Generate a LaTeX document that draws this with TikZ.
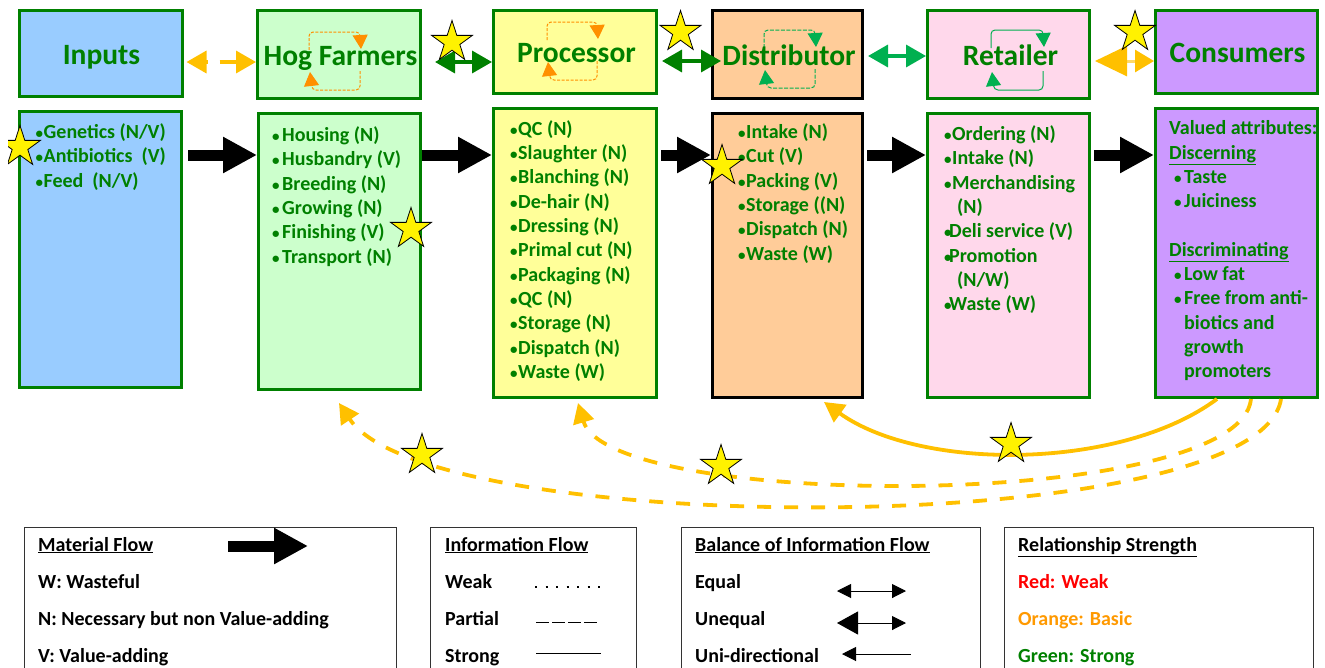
\documentclass[tikz,border=0pt]{standalone}
\usepackage{fontspec}
\setmainfont{Carlito}
\usetikzlibrary{arrows.meta,shapes.geometric,calc}
\definecolor{gr}{HTML}{008000}
\definecolor{lgr}{HTML}{00B050}
\definecolor{org}{HTML}{FFC000}
\definecolor{lorg}{HTML}{FF9000}
\definecolor{cin}{HTML}{99CCFF}
\definecolor{chog}{HTML}{CCFFCC}
\definecolor{cpro}{HTML}{FFFF99}
\definecolor{cdis}{HTML}{FFCC99}
\definecolor{cret}{HTML}{FFD8EB}
\definecolor{ccon}{HTML}{CC99FF}
\newcommand{\selfloop}[5]{%
    \draw[#1,line width=1pt,rounded corners=4pt,-{Triangle[length=14pt,width=15pt]}] (#2,#3+18) -- (#2,#3) -- (#4,#3) -- (#4+1,#3+17);
    \draw[#1,line width=1pt,rounded corners=4pt,-{Triangle[length=14pt,width=15pt]}] (#4,#5-19) -- (#4,#5) -- (#2+3,#5) -- (#2+1,#5-18);}
\newcommand{\bul}{{\fontsize{15}{15}\selectfont\textbullet}}
\newcommand{\li}[1]{\makebox[8pt][l]{\bul}#1}
\newcommand{\lj}[1]{\makebox[10pt][l]{\bul}#1}
\newcommand{\lk}[1]{\hspace*{5pt}\makebox[10pt][l]{\bul}#1}
\tikzset{
  box/.style={draw=gr,line width=3pt,inner sep=0pt},
  boxtitle/.style={anchor=base,inner sep=0pt,text=gr,font=\fontsize{29.5}{32}\selectfont\bfseries},
  listtext/.style={anchor=north west,align=left,inner sep=0pt,text=gr,font=\fontsize{20}{24.3}\selectfont\bfseries},
  legbox/.style={draw=black!80,line width=1pt,inner sep=0pt,anchor=north west},
  legtext/.style={anchor=base west,inner sep=0pt,font=\fontsize{20}{24}\selectfont\bfseries},
  matflow/.style={line width=11pt,-{Triangle[length=34pt,width=34pt]}},
  infoarrow/.style={line width=3.5pt,<->,>={Triangle[length=20pt,width=22pt]}},
  curvearrow/.style={org,line width=3.8pt,-{Triangle[length=20pt,width=21pt]}},
  curvedash/.style={curvearrow,dash pattern=on 14pt off 13pt},
  starshape/.style={star,star points=5,star point ratio=2.618,minimum size=43pt,inner sep=0pt,draw=black,line width=.8pt,fill=yellow},
  thinarrow/.style={line width=1pt,draw=black}
}
\begin{document}
\begin{tikzpicture}[x=1pt,y=-1pt]
\useasboundingbox (0,0) rectangle (1325,667);
\clip (0,0) rectangle (1325,667);
% top row
\node[box,fill=cin,minimum width=162.5pt,minimum height=86.5pt] (inT) at (100.75,53.25) {};
\node[box,fill=chog,minimum width=162.5pt,minimum height=88pt] (hogT) at (338.75,54.5) {};
\node[box,fill=cpro,minimum width=163pt,minimum height=82.5pt] (proT) at (575,51.75) {};
\node[box,draw=black,fill=cdis,minimum width=150pt,minimum height=88pt] (disT) at (787.5,54.5) {};
\node[box,fill=cret,minimum width=162pt,minimum height=88pt] (retT) at (1008.5,54.5) {};
\node[box,fill=ccon,minimum width=162pt,minimum height=82.5pt] (conT) at (1236.5,51.75) {};
% self loops
\selfloop{lorg,dash pattern=on 3pt off 1.5pt}{309}{32}{360}{90}
\selfloop{lorg,dash pattern=on 3pt off 1.5pt}{547}{22}{597}{80}
\selfloop{lgr,dash pattern=on 4pt off 1.5pt}{764}{30}{815}{88}
\selfloop{lgr}{991}{30}{1043}{90}
% titles
\node[boxtitle] (inTt) at (101.5,64) {Inputs};
\node[boxtitle] (hogTt) at (340.5,65) {Hog Farmers};
\node[boxtitle] (proTt) at (576.5,62) {Processor};
\node[boxtitle] (disTt) at (789,65) {Distributor};
\node[boxtitle] (retTt) at (1010.5,65) {Retailer};
\node[boxtitle] (conTt) at (1237.5,62) {Consumers};
% bottom row
\node[box,fill=cin,minimum width=162pt,minimum height=276pt] (inB) at (100.5,249.5) {};
\node[box,fill=chog,minimum width=161.5pt,minimum height=276pt] (hogB) at (339.25,251.5) {};
\node[box,fill=cpro,minimum width=163pt,minimum height=289pt] (proB) at (575,253) {};
\node[box,draw=black,fill=cdis,minimum width=150pt,minimum height=284pt] (disB) at (787.5,255.5) {};
\node[box,fill=cret,minimum width=162pt,minimum height=284pt] (retB) at (1008.5,255.5) {};
\node[box,fill=ccon,minimum width=162pt,minimum height=289pt] (conB) at (1236.5,253) {};
% lists
\node[listtext] (inL) at (35.5,123.5) {\li{Genetics (N/V)}\\\li{Antibiotics~~(V)}\\\li{Feed~~(N/V)}};
\node[listtext] (hogL) at (272,126.5) {\lj{Housing (N)}\\\lj{Husbandry (V)}\\\lj{Breeding (N)}\\\lj{Growing (N)}\\\lj{Finishing (V)}\\\lj{Transport (N)}};
\node[listtext] (proL) at (510,120.3) {\li{QC (N)}\\\li{Slaughter (N)}\\\li{Blanching (N)}\\\li{De-hair (N)}\\\li{Dressing (N)}\\\li{Primal cut (N)}\\\li{Packaging (N)}\\\li{QC (N)}\\\li{Storage (N)}\\\li{Dispatch (N)}\\\li{Waste (W)}};
\node[listtext] (disL) at (738,123.5) {\li{Intake (N)}\\\li{Cut (V)}\\\li{Packing (V)}\\\li{Storage ((N)}\\\li{Dispatch (N)}\\\li{Waste (W)}};
\node[listtext] (retL) at (944,125.5) {\li{Ordering (N)}\\\li{Intake (N)}\\\li{Merchandising}\\\hspace*{13pt}(N)\\\makebox[5pt][l]{\bul}Deli service (V)\\\makebox[5pt][l]{\bul}Promotion\\\hspace*{13pt}(N/W)\\\makebox[5pt][l]{\bul}Waste (W)};
\node[listtext] (conL) at (1169,120.5) {Valued attributes:\\\underline{Discerning}\\\lk{Taste}\\\lk{Juiciness}\\\mbox{}\\\underline{Discriminating}\\\lk{Low fat}\\\lk{Free from anti-}\\\hspace*{15pt}biotics and\\\hspace*{15pt}growth\\\hspace*{15pt}promoters};
% material flow
\draw[matflow] ([xshift=5pt]inB.east |- 0,155) -- (hogB.west |- 0,155);
\draw[matflow] (hogB.east |- 0,155) -- (proB.west |- 0,155);
\draw[matflow] ([xshift=3pt]proB.east |- 0,155) -- (disB.west |- 0,155);
\draw[matflow] ([xshift=3pt]disB.east |- 0,155) -- (retB.west |- 0,155);
\draw[matflow] ([xshift=3pt]retB.east |- 0,155) -- (conB.west |- 0,155);
% information flow
\draw[infoarrow,org,dash pattern=on 2pt off 12pt on 20pt off 100pt] ([xshift=3pt]inT.east |- 0,62) -- (hogT.west |- 0,62);
\draw[infoarrow,gr] ([xshift=13.5pt]hogT.east |- 0,62) -- (proT.west |- 0,62);
\draw[infoarrow,gr] ([xshift=4pt]proT.east |- 0,61) -- ([xshift=10pt]disT.west |- 0,61);
\draw[infoarrow,lgr] ([xshift=4pt]disT.east |- 0,56) -- (retT.west |- 0,56);
\draw[org!60,line width=3pt,{Triangle[length=32pt,width=30pt,org]}-{Triangle[length=19pt,width=22pt,org]}] ([xshift=4pt]retT.east |- 0,61) -- (conT.west |- 0,61);
% curved feedback
\draw[curvearrow] (conB.south -| 1217,0) .. controls (1120,471) and (920,471) .. ([yshift=-3pt]disB.south -| 824,0);
\draw[curvedash] (conB.south -| 1251,0) .. controls (1240,511) and (610,511) .. ([yshift=-4pt]proB.south -| 578,0);
\draw[curvedash] (conB.south -| 1281,0) .. controls (1260,540) and (430,540) .. ([yshift=-12pt]hogB.south -| 339,0);
% stars
\node[starshape] (s1) at (452,42) {};
\node[starshape] (s2) at (680.5,32) {};
\node[starshape] (s3) at (1135,32) {};
\begin{scope}
\clip (8,100) rectangle (60,200);
\node[starshape] (s4) at (20,147) {};
\end{scope}
\node[starshape] (s5) at (411,229) {};
\node[starshape] (s6) at (722,166) {};
\node[starshape] (s7) at (422,455) {};
\node[starshape] (s8) at (721,466) {};
\node[starshape] (s9) at (1011,444) {};
% legends
\node[legbox,minimum width=372pt,minimum height=200pt] (lg1) at (24,527) {};
\node[legbox,minimum width=206pt,minimum height=200pt] (lg2) at (430,527) {};
\node[legbox,minimum width=299pt,minimum height=200pt] (lg3) at (681,527) {};
\node[legbox,minimum width=309pt,minimum height=200pt] (lg4) at (1004,527) {};
\node[legtext] (a1) at (38,551) {\underline{Material Flow}};
\node[legtext] (a2) at (38,588) {W: Wasteful};
\node[legtext] (a3) at (38,625) {N: Necessary but non Value-adding};
\node[legtext] (a4) at (38,662) {V: Value-adding};
\node[legtext] (b1) at (445,551) {\underline{Information Flow}};
\node[legtext] (b2) at (445,588) {Weak};
\node[legtext] (b3) at (445,625) {Partial};
\node[legtext] (b4) at (445,662) {Strong};
\node[legtext] (c1) at (695,551) {\underline{Balance of Information Flow}};
\node[legtext] (c2) at (695,588) {Equal};
\node[legtext] (c3) at (695,625) {Unequal};
\node[legtext] (c4) at (695,662) {Uni-directional};
\node[legtext] (d1) at (1018,551) {\underline{Relationship Strength}};
\node[legtext,text=red] (d2) at (1018,588) {Red: Weak};
\node[legtext,text={rgb,255:red,255;green,153;blue,0}] (d3) at (1018,625) {Orange: Basic};
\node[legtext,text=gr] (d4) at (1018,662) {Green: Strong};
\coordinate (m1) at (228,546); \coordinate (m2) at (308,546);
\draw[matflow] (m1) -- (m2);
\coordinate (w1) at (535,587); \coordinate (w2) at (600,587);
\draw[line width=2pt,dash pattern=on 2pt off 8.5pt] (w1) -- (w2);
\coordinate (p1) at (536,622); \coordinate (p2) at (600,622);
\draw[line width=1pt,dash pattern=on 13pt off 3pt] (p1) -- (p2);
\coordinate (t1) at (536,653); \coordinate (t2) at (601,653);
\draw[line width=1pt] (t1) -- (t2);
\coordinate (e1) at (837,591); \coordinate (e2) at (906,591);
\draw[thinarrow,{Triangle[length=14pt,width=14pt]}-{Triangle[length=14pt,width=14pt]}] (e1) -- (e2);
\coordinate (u1) at (837,623); \coordinate (u2) at (906,623);
\draw[thinarrow,{Triangle[length=21pt,width=23pt]}-{Triangle[length=14pt,width=14pt]}] (u1) -- (u2);
\coordinate (d1a) at (842,654); \coordinate (d1b) at (911,654);
\draw[thinarrow,{Triangle[length=14pt,width=14pt]}-] (d1a) -- (d1b);
\end{tikzpicture}
\end{document}
